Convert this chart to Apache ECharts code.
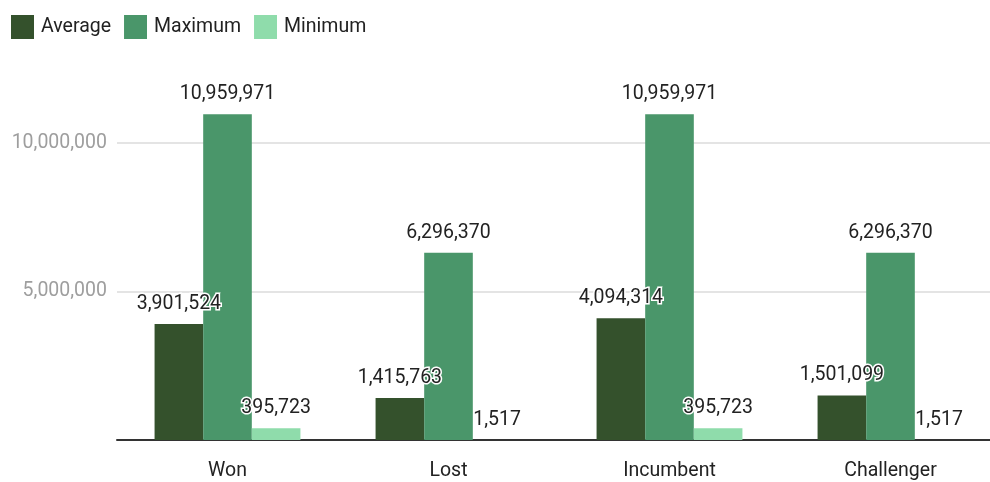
<!DOCTYPE html>
<html>
<head>
<meta charset="utf-8">
<style>
  html, body { margin: 0; padding: 0; background: #fff; }
  #chart { width: 990px; height: 482px; }
</style>
<script src="https://cdn.jsdelivr.net/npm/echarts@6/dist/echarts.min.js"></script>
</head>
<body>
<div id="chart"></div>
<script>
// Fundraising summary by election outcome and candidate status
const categories = ['Won', 'Lost', 'Incumbent', 'Challenger'];
const averageValues = [3901524, 1415763, 4094314, 1501099];
const maximumValues = [10959971, 6296370, 10959971, 6296370];
const minimumValues = [395723, 1517, 395723, 1517];
const seriesNames = ['Average', 'Maximum', 'Minimum'];
const seriesColors = ['#34512c', '#4a966a', '#8fdcab'];

const fontFamily = 'Roboto, "Noto Sans", sans-serif';
const fmt = v => Number(v).toLocaleString('en-US');

const chart = echarts.init(document.getElementById('chart'), null, { renderer: 'canvas' });

function barSeries(name, values, color) {
  return {
    name: name,
    type: 'bar',
    data: values,
    barGap: '0%',
    barCategoryGap: '34%',
    itemStyle: { color: color },
    label: {
      show: true,
      position: 'top',
      distance: 10,
      color: '#222',
      fontSize: 19.5,
      fontFamily: fontFamily,
      textBorderColor: '#fff',
      textBorderWidth: 3,
      formatter: p => fmt(p.value)
    },
    emphasis: { disabled: true }
  };
}

chart.setOption({
  animation: false,
  textStyle: { fontFamily: fontFamily },
  legend: {
    data: seriesNames,
    left: 6,
    top: 10,
    itemWidth: 23,
    itemHeight: 24,
    itemGap: 13,
    icon: 'rect',
    textStyle: { fontSize: 19.5, color: '#222', fontFamily: fontFamily, padding: [0, 0, 0, 2] }
  },
  // the plot runs a little past the right edge of the canvas
  grid: {
    left: 117, width: 884, top: 83.3, height: 356.7,
    containLabel: false,
    outerBoundsMode: 'none'
  },
  xAxis: {
    type: 'category',
    data: categories,
    axisLine: { lineStyle: { color: '#333', width: 2 } },
    axisTick: { alignWithLabel: true, length: 7, lineStyle: { color: '#333', width: 2 } },
    axisLabel: { color: '#222', fontSize: 19.5, margin: 21, fontFamily: fontFamily }
  },
  yAxis: {
    type: 'value',
    min: 0,
    max: 12000000,
    interval: 5000000,
    axisLine: { show: false },
    axisTick: { show: false },
    axisLabel: {
      color: '#9e9e9e',
      fontSize: 19.5,
      margin: 10,
      fontFamily: fontFamily,
      showMinLabel: false,
      showMaxLabel: false,
      formatter: v => fmt(v)
    },
    splitLine: { show: true, showMaxLine: false, lineStyle: { color: '#e4e4e4', width: 2 } }
  },
  series: [
    barSeries(seriesNames[0], averageValues, seriesColors[0]),
    barSeries(seriesNames[1], maximumValues, seriesColors[1]),
    barSeries(seriesNames[2], minimumValues, seriesColors[2])
  ]
});
</script>
</body>
</html>
